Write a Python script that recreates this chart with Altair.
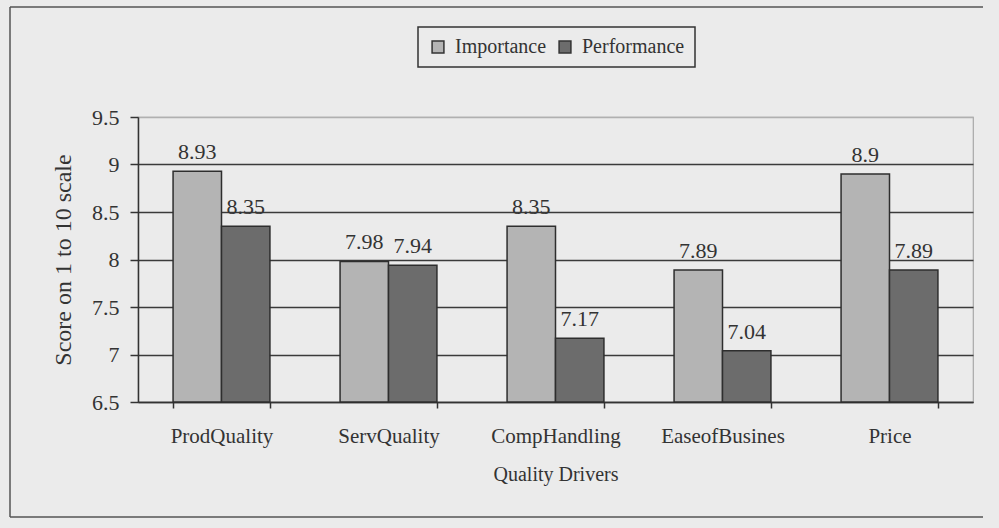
import altair as alt
import pandas as pd

# Quality drivers: importance vs. performance scores (1-10 scale)
drivers = ["ProdQuality", "ServQuality", "CompHandling", "EaseofBusines", "Price"]
importance = [8.93, 7.98, 8.35, 7.89, 8.9]
performance = [8.35, 7.94, 7.17, 7.04, 7.89]
series = ["Importance", "Performance"]
y_ticks = [6.5, 7, 7.5, 8, 8.5, 9, 9.5]

rows = []
for d, imp, perf in zip(drivers, importance, performance):
    rows.append({"driver": d, "measure": series[0], "score": imp})
    rows.append({"driver": d, "measure": series[1], "score": perf})
df = pd.DataFrame(rows)

FONT = "Liberation Serif"
INK = "#333333"
BG = "#ebebeb"

x_enc = alt.X(
    "driver:N",
    sort=drivers,
    title="Quality Drivers",
    scale=alt.Scale(paddingInner=0.42, paddingOuter=0.21),
    axis=alt.Axis(
        labelAngle=0,
        labelFontSize=21,
        tickBand="extent",
        tickSize=6,
        tickColor=INK,
        tickWidth=1.5,
        domainColor=INK,
        domainWidth=1.5,
        labelPadding=17,
        titlePadding=18,
        titleFontSize=20,
    ),
)
xoff_enc = alt.XOffset("measure:N", sort=series,
                       scale=alt.Scale(paddingInner=0, paddingOuter=0))
y_enc = alt.Y(
    "score:Q",
    title="Score on 1 to 10 scale",
    scale=alt.Scale(domain=[6.5, 9.5], zero=False, nice=False),
    axis=alt.Axis(
        values=y_ticks,
        labelExpr="'' + datum.value",
        labelFontSize=22,
        grid=True,
        gridColor=alt.condition("datum.value == 9.5", alt.value("#b0b0b0"), alt.value("#3a3a3a")),
        gridWidth=1.5,
        tickSize=8,
        tickColor=INK,
        tickWidth=1.5,
        domainColor=INK,
        domainWidth=1.5,
        labelPadding=11,
        titlePadding=16,
        titleFontSize=24,
    ),
)

bars = alt.Chart(df).mark_bar(stroke="#2e2e2e", strokeWidth=1.5).encode(
    x=x_enc,
    xOffset=xoff_enc,
    y=y_enc,
    y2=alt.Y2Datum(6.5),
    color=alt.Color(
        "measure:N",
        scale=alt.Scale(domain=series, range=["#b4b4b4", "#6c6c6c"]),
        legend=alt.Legend(title=None),
    ),
)

labels = alt.Chart(df).mark_text(dy=-19, font=FONT, fontSize=22, color=INK).encode(
    x=alt.X("driver:N", sort=drivers),
    xOffset=alt.XOffset("measure:N", sort=series),
    y=alt.Y("score:Q"),
    text=alt.Text("score:Q"),
)

# outer frame: top, left and bottom edges
frame_data = alt.Data(values=[{}])
frame_style = dict(stroke="#555555", strokeWidth=1.5)
frame_top = alt.Chart(frame_data).mark_rule(**frame_style).encode(
    x=alt.value(-128), x2=alt.value(845), y=alt.value(-110))
frame_bottom = alt.Chart(frame_data).mark_rule(**frame_style).encode(
    x=alt.value(-128), x2=alt.value(845), y=alt.value(400))
frame_left = alt.Chart(frame_data).mark_rule(**frame_style).encode(
    x=alt.value(-128), y=alt.value(-110), y2=alt.value(400))

chart = alt.layer(frame_top, frame_bottom, frame_left, bars, labels).properties(
    width=835,
    height=285,
    padding={"left": 138, "top": 117, "right": 26, "bottom": 126},
    autosize=alt.AutoSizeParams(type="none"),
    background=BG,
).configure_view(
    stroke="#a8a8a8", strokeWidth=1.2
).configure_axis(
    labelFont=FONT, labelColor=INK,
    titleFont=FONT, titleColor=INK, titleFontWeight="normal",
).configure_legend(
    orient="none", legendX=280, legendY=-90, direction="horizontal",
    strokeColor=INK, strokeWidth=1.5, padding=10, fillColor=BG,
    labelFont=FONT, labelFontSize=20, labelColor=INK,
    symbolType="square", symbolSize=140, symbolStrokeColor=INK,
    symbolStrokeWidth=1.5, symbolOpacity=1, columnPadding=8, labelOffset=7,
)

chart.save("out.html", embed_options={"renderer": "svg", "actions": False})
